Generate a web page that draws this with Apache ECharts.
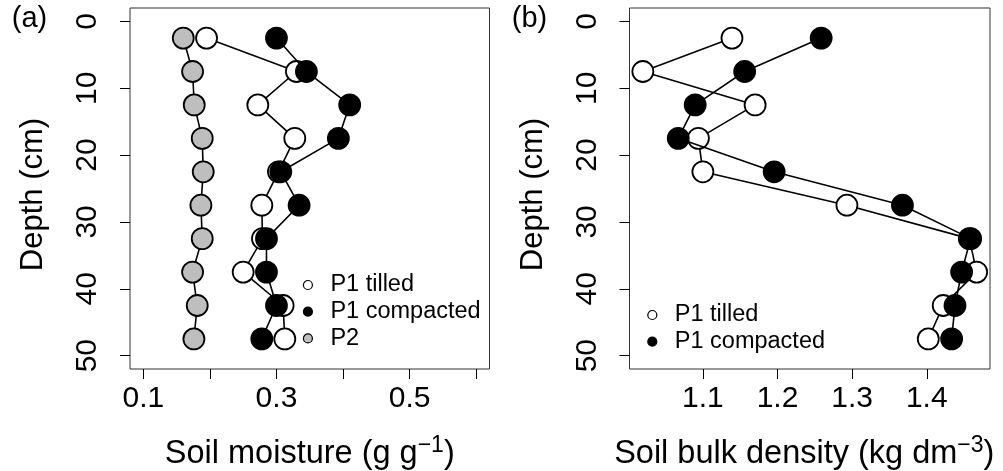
<!DOCTYPE html>
<html><head><meta charset="utf-8">
<script src="https://cdn.jsdelivr.net/npm/echarts@6/dist/echarts.min.js"></script>
<style>html,body{margin:0;padding:0;background:#fff}#c{width:1003px;height:471px}</style>
</head><body><div id="c"></div>
<script>
// ---- data ----
const depths = [2.5, 7.5, 12.5, 17.5, 22.5, 27.5, 32.5, 37.5, 42.5, 47.5];
const moistureTilled    = [0.195, 0.330, 0.272, 0.3275, 0.303, 0.278, 0.279, 0.250, 0.310, 0.3125];
const moistureCompacted = [0.300, 0.345, 0.410, 0.393, 0.3065, 0.334, 0.285, 0.285, 0.300, 0.278];
const moistureP2        = [0.160, 0.174, 0.1765, 0.1885, 0.190, 0.1865, 0.1885, 0.174, 0.181, 0.176];
const densityTilled     = [1.139, 1.0196, 1.170, 1.094, 1.100, 1.293, 1.457, 1.4668, 1.422, 1.402];
const densityCompacted  = [1.2585, 1.156, 1.0897, 1.067, 1.1955, 1.3674, 1.4588, 1.4467, 1.4378, 1.4333];
const depthTicks = [0, 10, 20, 30, 40, 50];
const moistureTicks = [0.1, 0.2, 0.3, 0.4, 0.5, 0.6];
const moistureTickLabels = [0.1, 0.3, 0.5];
const densityTicks = [1.1, 1.2, 1.3, 1.4];
const seriesNames = ['P1 tilled', 'P1 compacted', 'P2'];
const fills = ['#ffffff', '#000000', '#bebebe'];

const FF = '"Liberation Sans", Arial, Helvetica, sans-serif';
const chart = echarts.init(document.getElementById('c'), null, {renderer: 'canvas'});

function pairs(xs) { return depths.map((d, i) => [xs[i], d]); }

function xAxisCfg(gi, min, max, ticks, labels, name, padRight) {
  return {
    type: 'value', gridIndex: gi, min: min, max: max, position: 'bottom',
    axisLine: {show: false, onZero: false},
    splitLine: {show: false},
    axisTick: {show: true, inside: false, length: 10, customValues: ticks, lineStyle: {color: '#000', width: 1}},
    axisLabel: {show: true, customValues: labels, margin: 15, fontSize: 30, color: '#000', fontFamily: FF,
      formatter: v => Number(v).toFixed(1)},
    name: name, nameLocation: 'middle', nameGap: 65,
    nameTextStyle: {fontSize: 32.5, color: '#000', fontFamily: FF, lineHeight: 40, padding: [0, padRight, 0, 0],
      rich: {sup: {fontSize: 23, color: '#000', fontFamily: FF, verticalAlign: 'top', lineHeight: 23}}}
  };
}
function yAxisCfg(gi) {
  return {
    type: 'value', gridIndex: gi, inverse: true, min: -2, max: 52, position: 'left',
    axisLine: {show: false, onZero: false},
    splitLine: {show: false},
    axisTick: {show: true, inside: false, length: 10, customValues: depthTicks, lineStyle: {color: '#000', width: 1}},
    axisLabel: {show: true, customValues: depthTicks, rotate: 90, margin: 27, fontSize: 30, color: '#000', fontFamily: FF},
    name: 'Depth (cm)', nameLocation: 'middle', nameGap: 81,
    nameTextStyle: {fontSize: 31, color: '#000', fontFamily: FF, padding: [0, 12, 0, 0]}
  };
}
function lineSeries(name, xs, fill, gi, z) {
  return {
    type: 'line', name: name, xAxisIndex: gi, yAxisIndex: gi, data: pairs(xs),
    symbol: 'circle', symbolSize: 21, showAllSymbol: true, z: z,
    lineStyle: {color: '#000', width: 1.6},
    itemStyle: {color: fill, borderColor: '#000', borderWidth: 1.8, opacity: 1},
    emphasis: {disabled: true}, silent: true, clip: false, animation: false
  };
}
function legendCfg(left, top, n) {
  return {
    orient: 'vertical', left: left, top: top, padding: 0, itemGap: 2.7,
    itemWidth: 35, itemHeight: 9, icon: 'circle', selectedMode: false,
    textStyle: {fontSize: 23.5, lineHeight: 24, color: '#000', fontFamily: FF},
    data: seriesNames.slice(0, n).map((nm, i) => ({name: nm, icon: 'circle',
      itemStyle: {color: fills[i], borderColor: '#000', borderWidth: 1.2}}))
  };
}

const option = {
  backgroundColor: '#fff',
  animation: false,
  grid: [
    {left: 130, top: 8, width: 359.5, height: 361, show: true, borderColor: '#333', borderWidth: 1, backgroundColor: 'transparent', containLabel: false, outerBoundsMode: 'none'},
    {left: 629.5, top: 8, width: 360.5, height: 361, show: true, borderColor: '#333', borderWidth: 1, backgroundColor: 'transparent', containLabel: false, outerBoundsMode: 'none'}
  ],
  xAxis: [
    xAxisCfg(0, 0.08, 0.62, moistureTicks, moistureTickLabels, 'Soil moisture (g g{sup|\u22121})', 0),
    xAxisCfg(1, 1.0017, 1.4847, densityTicks, densityTicks, 'Soil bulk density (kg dm{sup|\u22123})', 11)
  ],
  yAxis: [yAxisCfg(0), yAxisCfg(1)],
  legend: [legendCfg(302.8, 273, 3), legendCfg(647.2, 303, 2)],
  series: [
    lineSeries(seriesNames[0], moistureTilled, fills[0], 0, 3),
    lineSeries(seriesNames[1], moistureCompacted, fills[1], 0, 4),
    lineSeries(seriesNames[2], moistureP2, fills[2], 0, 5),
    lineSeries(seriesNames[0], densityTilled, fills[0], 1, 3),
    lineSeries(seriesNames[1], densityCompacted, fills[1], 1, 4)
  ],
  graphic: [
    {type: 'text', x: 29.5, y: 19, style: {text: '(a)', fontSize: 29, fontFamily: FF, fill: '#000', textAlign: 'center', textVerticalAlign: 'middle', align: 'center', verticalAlign: 'middle'}},
    {type: 'text', x: 529.5, y: 19, style: {text: '(b)', fontSize: 29, fontFamily: FF, fill: '#000', textAlign: 'center', textVerticalAlign: 'middle', align: 'center', verticalAlign: 'middle'}}
  ]
};
chart.setOption(option);
</script></body></html>
